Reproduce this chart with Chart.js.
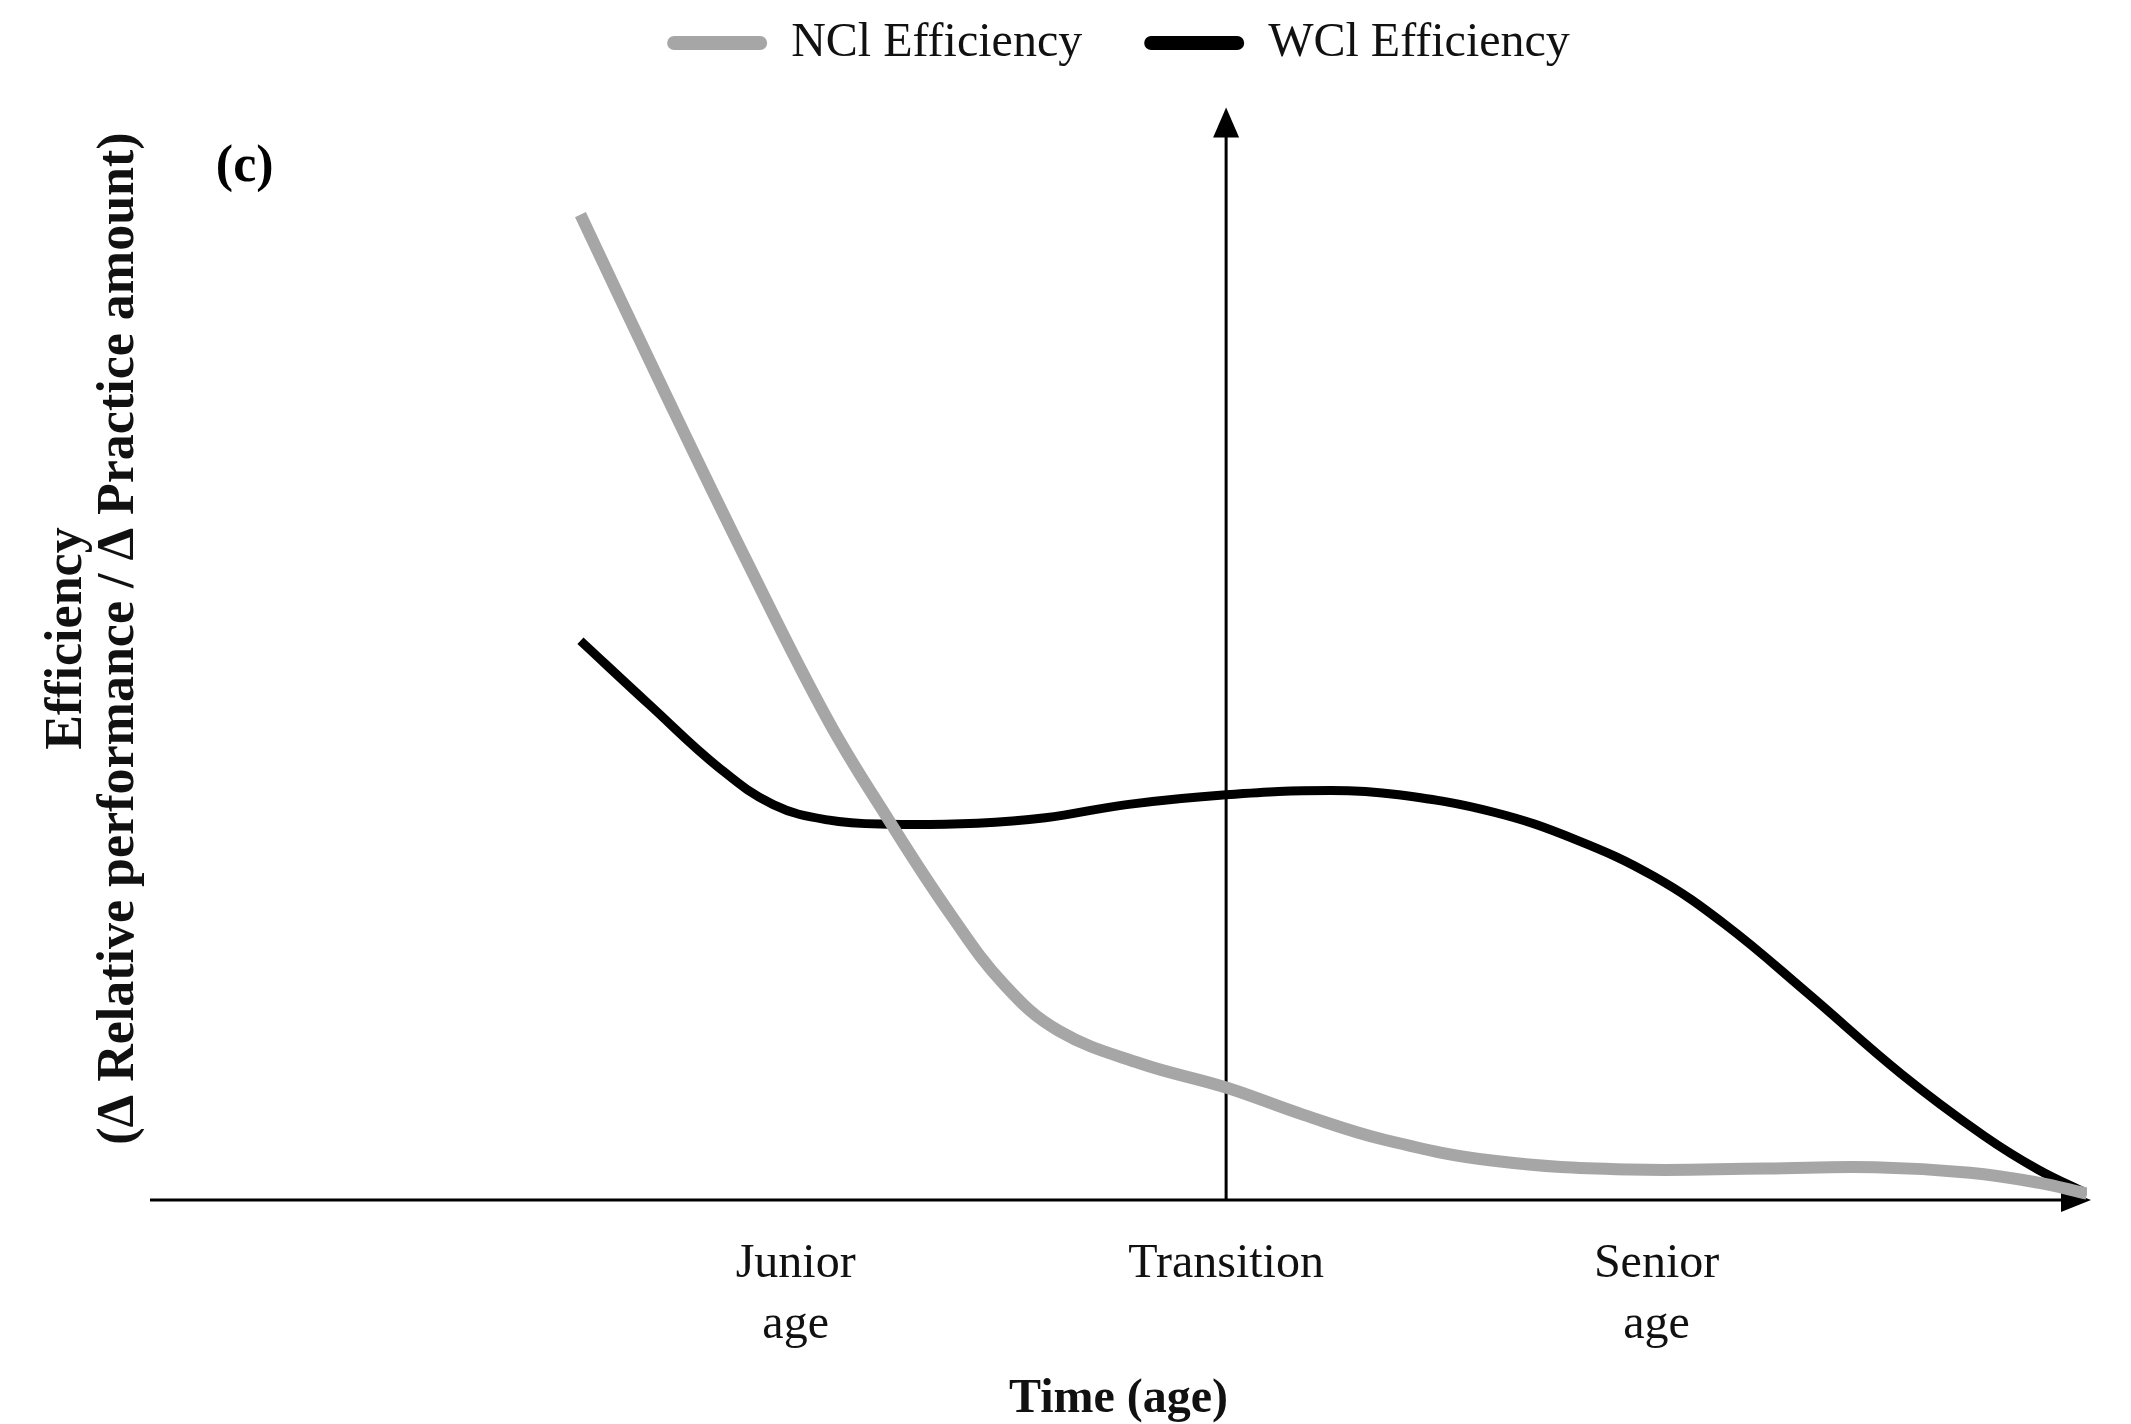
<!DOCTYPE html>
<html>
<head>
<meta charset="utf-8">
<script src="https://cdn.jsdelivr.net/npm/chart.js@4.4.1/dist/chart.umd.min.js"></script>
<style>
  html, body { margin: 0; padding: 0; background: #fff; }
  canvas { display: block; }
</style>
</head>
<body>
<canvas id="efficiencyChart" width="2131" height="1424"></canvas>
<script>
// x ticks: Junior age = 1, Transition = 2, Senior age = 3
const tickValues = [1, 2, 3];
const tickLabels = [['Junior', 'age'], ['Transition'], ['Senior', 'age']];

// values
const nclTime = [0.5, 0.695, 0.885, 1.074, 1.216, 1.359, 1.485, 1.611, 1.801, 2.0, 2.18, 2.37, 2.622, 2.938, 3.254, 3.507, 3.728, 3.886, 4.0];
const nclEfficiency = [9.02, 7.4, 5.86, 4.4, 3.48, 2.62, 1.97, 1.55, 1.25, 1.03, 0.78, 0.55, 0.36, 0.28, 0.29, 0.3, 0.25, 0.16, 0.06];

const wclTime = [0.5, 0.664, 0.821, 0.948, 1.074, 1.216, 1.422, 1.58, 1.769, 2.0, 2.243, 2.401, 2.622, 2.812, 2.995, 3.16, 3.349, 3.57, 3.76, 3.886, 4.0];
const wclEfficiency = [5.12, 4.52, 3.96, 3.62, 3.48, 3.44, 3.45, 3.5, 3.62, 3.71, 3.75, 3.71, 3.55, 3.3, 2.96, 2.52, 1.9, 1.15, 0.59, 0.28, 0.06];

const serif = "'Liberation Serif', 'Times New Roman', serif";

function toPoints(xs, ys) {
  return xs.map((x, i) => ({ x: x, y: ys[i] }));
}

// axes with arrowheads + the "(c)" panel tag
const axisArrows = {
  id: 'axisArrows',
  beforeDatasetsDraw(chart) {
    const { ctx, chartArea, scales: { x, y } } = chart;
    const y0 = y.getPixelForValue(0);
    const xMid = x.getPixelForValue(tickValues[1]);
    const yTop = y.getPixelForValue(10);
    const xRight = chartArea.right + 4;
    ctx.save();
    ctx.strokeStyle = '#000';
    ctx.fillStyle = '#000';
    ctx.lineWidth = 3;
    ctx.beginPath();
    ctx.moveTo(chartArea.left, y0);
    ctx.lineTo(xRight - 20, y0);
    ctx.moveTo(xMid, y0);
    ctx.lineTo(xMid, yTop + 20);
    ctx.stroke();
    // right arrow
    ctx.beginPath();
    ctx.moveTo(xRight, y0);
    ctx.lineTo(xRight - 30, y0 - 12);
    ctx.lineTo(xRight - 30, y0 + 12);
    ctx.closePath();
    ctx.fill();
    // up arrow
    ctx.beginPath();
    ctx.moveTo(xMid, yTop);
    ctx.lineTo(xMid - 13, yTop + 30);
    ctx.lineTo(xMid + 13, yTop + 30);
    ctx.closePath();
    ctx.fill();
    // panel tag
    ctx.font = 'bold 52px ' + serif;
    ctx.textAlign = 'center';
    ctx.textBaseline = 'middle';
    ctx.fillText('(c)', x.getPixelForValue(-0.28), y.getPixelForValue(9.45));
    ctx.restore();
  }
};

const ctx = document.getElementById('efficiencyChart').getContext('2d');
const efficiencyChart = new Chart(ctx, {
  type: 'line',
  data: {
    datasets: [{
      label: 'NCl Efficiency',
      data: toPoints(nclTime, nclEfficiency),
      borderColor: '#a6a6a6',
      backgroundColor: '#a6a6a6',
      borderWidth: 12,
      pointRadius: 0,
      tension: 0.4
    }, {
      label: 'WCl Efficiency',
      data: toPoints(wclTime, wclEfficiency),
      borderColor: '#000000',
      backgroundColor: '#000000',
      borderWidth: 9,
      pointRadius: 0,
      tension: 0.4
    }]
  },
  options: {
    responsive: false,
    devicePixelRatio: 1,
    animation: false,
    layout: {
      padding: { top: 5, right: 44, bottom: 0, left: 0 }
    },
    plugins: {
      legend: {
        display: true,
        position: 'top',
        fullSize: false,
        labels: {
          color: '#111',
          font: { family: serif, size: 48 },
          boxWidth: 100,
          boxHeight: 14,
          padding: 14,
          useBorderRadius: true,
          borderRadius: 7,
          generateLabels(chart) {
            return Chart.defaults.plugins.legend.labels.generateLabels(chart).map((item, i) => {
              item.lineWidth = 0;
              item.fillStyle = item.strokeStyle;
              if (i === 0) item.text += '\u2003';
              return item;
            });
          }
        }
      },
      tooltip: { enabled: false }
    },
    scales: {
      x: {
        type: 'linear',
        min: -0.5,
        max: 4.0,
        border: { display: false },
        grid: { display: false, drawTicks: false },
        afterBuildTicks: function(scale) {
          scale.ticks = tickValues.map(v => ({ value: v }));
        },
        ticks: {
          color: '#111',
          padding: 34,
          maxRotation: 0,
          autoSkip: false,
          font: { family: serif, size: 48, lineHeight: 1.27 },
          callback: function(value) {
            const i = tickValues.indexOf(value);
            return i >= 0 ? tickLabels[i] : '';
          }
        },
        title: {
          display: true,
          text: 'Time (age)',
          color: '#111',
          font: { family: serif, size: 48, weight: 'bold', lineHeight: 1.0 },
          padding: { top: -14, bottom: 0 }
        }
      },
      y: {
        min: 0,
        max: 10.28,
        border: { display: false },
        grid: { display: false, drawTicks: false },
        ticks: { display: false },
        title: {
          display: true,
          text: ['Efficiency', '(\u0394 Relative performance / \u0394 Practice amount)'],
          color: '#111',
          font: { family: serif, size: 52, weight: 'bold', lineHeight: 1.0 },
          padding: { top: 42, bottom: 4 }
        }
      }
    }
  },
  plugins: [axisArrows]
});
</script>
</body>
</html>
